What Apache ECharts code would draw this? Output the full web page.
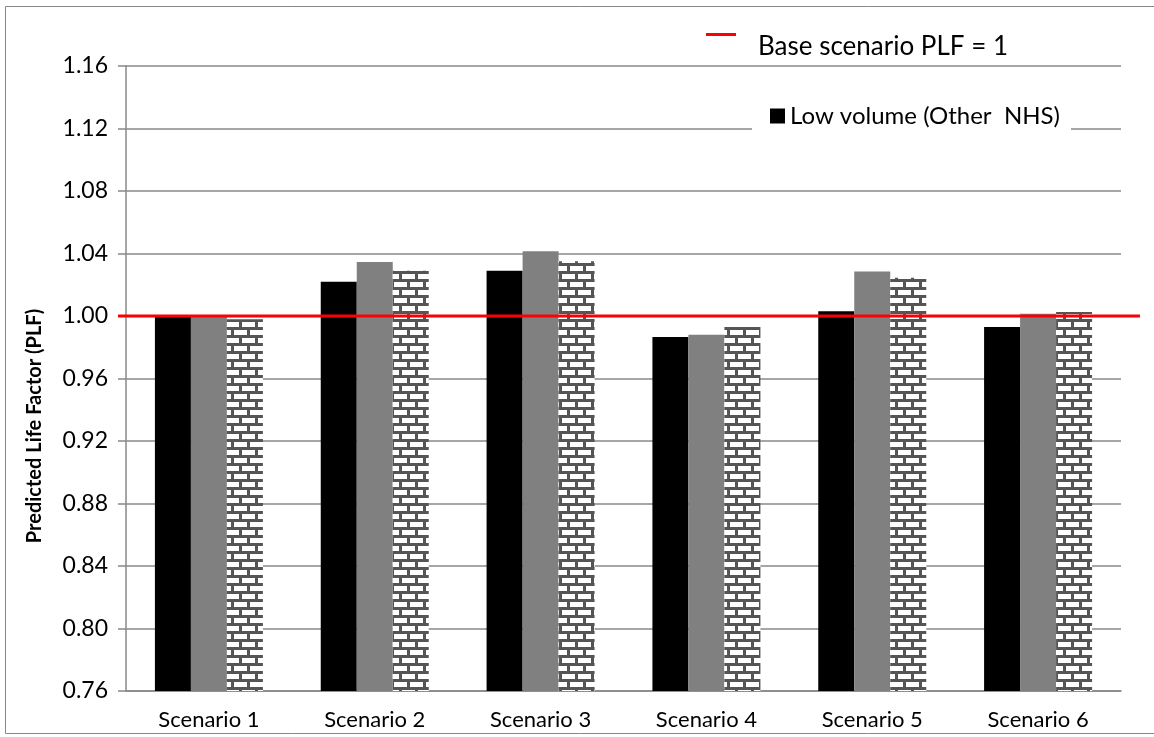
<!DOCTYPE html>
<html>
<head>
<meta charset="utf-8">
<script src="https://cdn.jsdelivr.net/npm/echarts@6/dist/echarts.min.js"></script>
<style>
  html, body { margin: 0; padding: 0; background: #fff; }
  #chart { width: 1154px; height: 737px; }
</style>
</head>
<body>
<div id="chart"></div>
<script>
var categories = ['Scenario 1', 'Scenario 2', 'Scenario 3', 'Scenario 4', 'Scenario 5', 'Scenario 6'];
var lowVolume = [1.0005, 1.022, 1.029, 0.9865, 1.003, 0.993];
var series2Values = [0.9995, 1.0345, 1.0415, 0.988, 1.0285, 1.0015];
var series3Values = [0.998, 1.029, 1.035, 0.993, 1.0245, 1.0025];
var baseLine = [[0, 1], [1, 1]];
var yTicks = { min: 0.76, max: 1.16, interval: 0.04 };

var fontName = 'Lato';

// brick pattern for the third series
function brickPattern () {
  var c = document.createElement('canvas');
  c.width = 16;
  c.height = 16;
  var ctx = c.getContext('2d');
  ctx.fillStyle = '#555555';
  ctx.fillRect(0, 0, 16, 16);
  ctx.fillStyle = '#ffffff';
  ctx.fillRect(2, 2, 13, 5);
  ctx.fillRect(10, 10, 6, 5);
  ctx.fillRect(0, 10, 7, 5);
  return c;
}

var chart = echarts.init(document.getElementById('chart'));

var option = {
  backgroundColor: '#fff',
  animation: false,
  grid: [{
    left: 126,
    right: 33,
    top: 66,
    bottom: 46
  }, {
    // wider grid so the base line runs past the plot edges
    left: 118,
    right: 14,
    top: 66,
    bottom: 46
  }],
  legend: [{
    // red line icon only
    data: [{ name: 'Base scenario PLF = 1', icon: 'rect' }],
    left: 706,
    top: 33,
    itemWidth: 30,
    itemHeight: 3,
    padding: 0,
    selectedMode: false,
    formatter: function () {
      return '';
    }
  }, {
    data: [{ name: 'Base scenario PLF = 1', icon: 'rect' }],
    left: 753,
    top: 34,
    itemWidth: 0,
    itemHeight: 0,
    padding: 0,
    selectedMode: false,
    textStyle: {
      fontFamily: fontName,
      fontSize: 26,
      color: '#000'
    }
  }, {
    data: [{ name: 'Low volume (Other  NHS)', icon: 'rect' }],
    left: 752,
    top: 96,
    itemWidth: 15,
    itemHeight: 15,
    padding: [8, 11, 8, 18],
    backgroundColor: '#fff',
    selectedMode: false,
    textStyle: {
      fontFamily: fontName,
      fontSize: 24,
      color: '#000'
    }
  }],
  xAxis: [{
    type: 'category',
    data: categories,
    axisLine: { lineStyle: { color: '#888', width: 1.5 } },
    axisTick: { show: false },
    axisLabel: {
      margin: 18,
      color: '#000',
      fontFamily: fontName,
      fontSize: 22
    }
  }, {
    type: 'value',
    gridIndex: 1,
    min: 0,
    max: 1,
    show: false
  }],
  yAxis: [{
    type: 'value',
    min: yTicks.min,
    max: yTicks.max,
    interval: yTicks.interval,
    axisLine: { show: true, lineStyle: { color: '#888', width: 1.5 } },
    axisTick: { show: true, length: 8, lineStyle: { color: '#888', width: 1.5 } },
    splitLine: { lineStyle: { color: '#888', width: 1.5 } },
    axisLabel: {
      margin: 18,
      color: '#000',
      fontFamily: fontName,
      fontSize: 23,
      formatter: function (v) {
        return v.toFixed(2);
      }
    }
  }, {
    type: 'value',
    gridIndex: 1,
    min: yTicks.min,
    max: yTicks.max,
    show: false
  }],
  graphic: [{
    type: 'rect',
    silent: true,
    shape: { x: 5.5, y: 6.5, width: 1200, height: 727 },
    style: { fill: null, stroke: '#888', lineWidth: 1 }
  }, {
    type: 'text',
    x: 35,
    y: 426,
    rotation: Math.PI / 2,
    style: {
      text: 'Predicted Life Factor (PLF)',
      font: 'bold 20px ' + fontName,
      fill: '#000',
      textAlign: 'center',
      textVerticalAlign: 'middle'
    }
  }],
  series: [{
    name: 'Low volume (Other  NHS)',
    type: 'bar',
    barWidth: 36,
    barGap: '0%',
    itemStyle: { color: '#000000' },
    data: lowVolume
  }, {
    name: 'Series 2',
    type: 'bar',
    barWidth: 36,
    barGap: '0%',
    itemStyle: { color: '#808080' },
    data: series2Values
  }, {
    name: 'Series 3',
    type: 'bar',
    barWidth: 36,
    barGap: '0%',
    itemStyle: { color: { image: brickPattern(), repeat: 'repeat' } },
    data: series3Values
  }, {
    name: 'Base scenario PLF = 1',
    type: 'line',
    xAxisIndex: 1,
    yAxisIndex: 1,
    symbol: 'none',
    lineStyle: { color: '#ff0000', width: 3 },
    itemStyle: { color: '#ff0000' },
    data: baseLine,
    z: 5
  }]
};

chart.setOption(option);
</script>
</body>
</html>
